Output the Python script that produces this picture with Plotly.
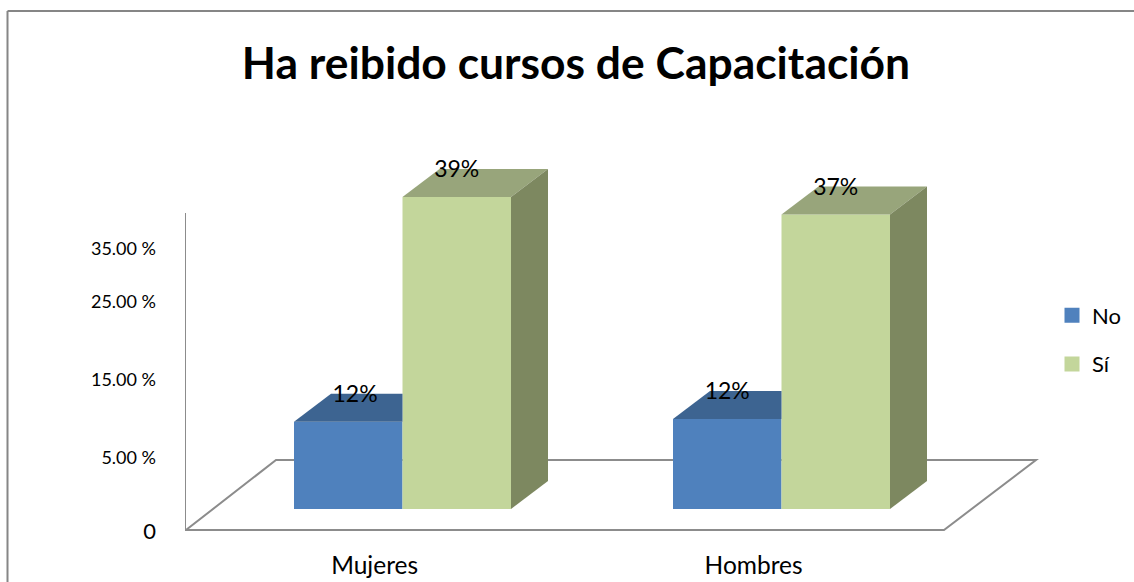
import plotly.graph_objects as go

categories = ["Mujeres", "Hombres"]
series_names = ["No", "Sí"]
no_values = [10.9, 11.25]
si_values = [39.0, 36.8]
no_labels = ["12%", "12%"]
si_labels = ["39%", "37%"]
y_tick_vals = [-3.0, 6.4, 16.2, 25.9, 32.5]
y_tick_text = ['<span style="font-size:22px">0</span>', "5.00 %", "15.00 %", "25.00 %", "35.00 %"]

W, H = 1134, 582
L, R, T, B = 185, 1040, 160, 536
PX_X = 379.0
PX_Y = 8.0
X0_PX, Y0_PX = 402.5, 509.0
x_rng = [(L - X0_PX) / PX_X, (R - X0_PX) / PX_X]
y_rng = [(Y0_PX - B) / PX_Y, (Y0_PX - T) / PX_Y]
bar_w = 108.5 / PX_X
dx = 37 / PX_X
dy = 28 / PX_Y
COL = {"No": ("#4F81BD", "#3D6491", "#3D6491"), "Sí": ("#C3D69B", "#98A57B", "#7D8860")}
GREY = "#8C8C8C"
FONT = "Lato, Carlito, Calibri, sans-serif"

fig = go.Figure()
xs = [0, 1]

def poly(px, py, color):
    fig.add_trace(go.Scatter(x=px + px[:1], y=py + py[:1], mode="lines", fill="toself",
                             fillcolor=color, line=dict(width=0, color=color),
                             showlegend=False, hoverinfo="skip"))

fig.add_trace(go.Bar(x=xs, y=no_values, name="No", marker=dict(color=COL["No"][0], line=dict(width=0)),
                     showlegend=False, width=bar_w))
fig.add_trace(go.Bar(x=xs, y=si_values, name="Sí", marker=dict(color=COL["Sí"][0], line=dict(width=0)),
                     showlegend=False, width=bar_w))

for i in xs:
    # No: top face, cut where the Sí front begins
    l, r = i - bar_w, i
    v = no_values[i]
    poly([l, l + dx, r, r], [v, v + dy, v + dy, v], COL["No"][1])
    # Sí: top and side faces
    l, r = i, i + bar_w
    v = si_values[i]
    poly([l, l + dx, r + dx, r], [v, v + dy, v + dy, v], COL["Sí"][1])
    poly([r, r + dx, r + dx, r], [v, v + dy, dy, 0], COL["Sí"][2])

label_shift = [0.018, 0.0]
label_drop = 0.3
fig.add_trace(go.Scatter(
    x=[i - bar_w / 2 + label_shift[i] for i in xs] + [i + bar_w / 2 for i in xs],
    y=[v + dy - label_drop for v in no_values] + [v + dy - label_drop for v in si_values],
    text=no_labels + si_labels, mode="text", textposition="middle center",
    textfont=dict(family=FONT, size=23, color="#000000"),
    showlegend=False, hoverinfo="skip", cliponaxis=False))

for n in series_names:
    fig.add_trace(go.Scatter(x=[None], y=[None], mode="markers", name=n, legendgroup=n,
                             marker=dict(symbol="square", size=15, color=COL[n][0])))

def xd(px): return (px - X0_PX) / PX_X
def yd(px): return (Y0_PX - px) / PX_Y
floor = f"M{xd(186)},{yd(530)} L{xd(944)},{yd(530)} L{xd(1036)},{yd(460)} L{xd(276)},{yd(460)} Z"
shapes = [
    dict(type="path", path=floor, xref="x", yref="y", layer="below", line=dict(color=GREY, width=2)),
    dict(type="line", xref="x", yref="y", x0=xd(185), x1=xd(185), y0=yd(531), y1=yd(213),
         layer="below", line=dict(color=GREY, width=2)),
    dict(type="line", xref="paper", yref="paper", x0=7.5 / W, x1=1, y0=1 - 11 / H, y1=1 - 11 / H,
         line=dict(color="#868686", width=2)),
    dict(type="line", xref="paper", yref="paper", x0=7.5 / W, x1=7.5 / W, y0=0, y1=1 - 11 / H,
         line=dict(color="#868686", width=2)),
]

fig.update_layout(
    width=W, height=H, margin=dict(l=0, r=0, t=0, b=0), autosize=False,
    paper_bgcolor="white", plot_bgcolor="rgba(0,0,0,0)",
    barmode="group", bargap=1 - 2 * bar_w, bargroupgap=0,
    title=dict(text="<b>Ha reibido cursos de Capacitación</b>", x=576 / W, xanchor="center",
               y=1 - 63 / H, yanchor="middle", font=dict(family=FONT, size=44.4, color="#000000")),
    xaxis=dict(domain=[L / W, R / W], range=x_rng, tickmode="array", automargin=False,
               tickvals=[i - 0.0735 for i in xs], ticktext=categories, showgrid=False, zeroline=False,
               showline=False, ticks="", ticklabelstandoff=12,
               tickfont=dict(family=FONT, size=24.5, color="#000000")),
    yaxis=dict(domain=[1 - B / H, 1 - T / H], range=y_rng, tickmode="array", tickvals=y_tick_vals,
               automargin=False, ticktext=y_tick_text, showgrid=False, zeroline=False, showline=False,
               ticks="", ticklabelstandoff=28, tickfont=dict(family=FONT, size=18, color="#000000")),
    shapes=shapes,
    showlegend=True,
    legend=dict(x=1052 / W, y=1 - 340 / H, xanchor="left", yanchor="middle", bgcolor="rgba(0,0,0,0)",
                tracegroupgap=17, font=dict(family=FONT, size=22, color="#000000"), itemwidth=30),
)
fig.write_html("out.html", config=dict(displayModeBar=False, responsive=False),
               post_script="document.body.style.margin='0';")
